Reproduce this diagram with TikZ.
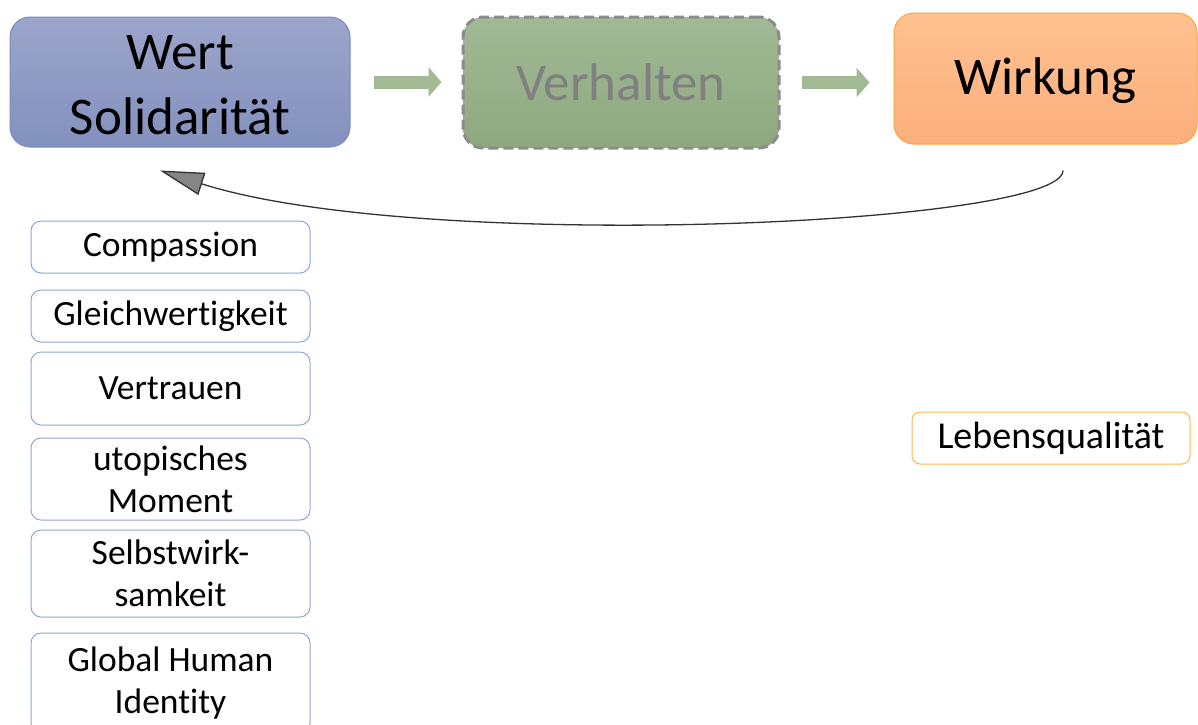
\documentclass[tikz,border=0pt]{standalone}
\usepackage{fontspec}
\setmainfont{Carlito}[Ligatures=NoCommon]
\usetikzlibrary{arrows.meta}
\definecolor{wertTop}{HTML}{9CA5CB}
\definecolor{wertBot}{HTML}{8391BE}
\definecolor{wertLine}{HTML}{7A8BBE}
\definecolor{verhTop}{HTML}{A1BA96}
\definecolor{verhBot}{HTML}{8DA87E}
\definecolor{wirkTop}{HTML}{FFC190}
\definecolor{wirkBot}{HTML}{FBAF7C}
\definecolor{wirkLine}{HTML}{F9A340}
\definecolor{boxblue}{HTML}{8FA6D0}
\definecolor{boxorange}{HTML}{FFB64C}
\definecolor{arrowgreen}{HTML}{A2BA93}
\definecolor{headgray}{HTML}{858585}
\begin{document}
\begin{tikzpicture}[x=1pt,y=-1pt,
  big/.style={rounded corners=20pt, inner sep=0pt, align=center,
    font=\fontsize{53}{65}\selectfont, line width=1pt},
  merkmal/.style={draw=boxblue, line width=1pt, rounded corners=10pt, fill=white,
    minimum width=279pt, inner sep=0pt, align=center, font=\fontsize{35.5}{42}\selectfont},
  flow/.style={line width=13pt, draw=arrowgreen, -{Triangle[width=29pt,length=13pt]}}]
\useasboundingbox (0,0) rectangle (1198,724);
\fill[white] (0,0) rectangle (1198,724);

% obere Kette
\node[big, minimum width=340pt, minimum height=130pt, top color=wertTop, bottom color=wertBot, draw=wertLine] (wert) at (180,82) {\rule{0pt}{40pt}Wert\\Solidarität};
\node[big, minimum width=316pt, minimum height=131pt, top color=verhTop, bottom color=verhBot, draw=gray!90, line width=3pt,
  dash pattern=on 10pt off 5pt, text=gray] (verh) at (621,82.5) {Verhalten};
\node[big, minimum width=303pt, minimum height=131pt, top color=wirkTop, bottom color=wirkBot, draw=wirkLine] (wirk) at (1045.5,78.5) {\rule{0pt}{42pt}Wirkung};

\draw[flow, shorten <=23pt, shorten >=20pt] (wert.east) -- (wert.east -| verh.west);
\draw[flow, shorten <=21pt, shorten >=24pt] (verh.east) -- (verh.east -| wirk.west);

% Rueckkopplung
\draw[line width=1.3pt, draw=black!80, -{Triangle[length=44pt,width=23pt,fill=headgray]}]
  ([xshift=17.5pt,yshift=-26pt]wirk.south) .. controls +(0,55) and +(260,83) .. ([xshift=-20pt,yshift=-23pt]wert.south);

% Merkmale
\node[merkmal, minimum height=52pt] (comp) at (170.5,247) {Compassion};
\node[merkmal, minimum height=52pt] (gleich) at (170.5,316) {Gleichwertigkeit};
\node[merkmal, minimum height=73pt] (vertr) at (170.5,388.5) {Vertrauen};
\node[merkmal, minimum height=82pt] (utop) at (170.5,479) {utopisches\\Moment};
\node[merkmal, minimum height=87pt] (selbst) at (170.5,573.5) {Selbstwirk-\\samkeit};
\node[merkmal, minimum height=100pt] (ghi) at (170.5,683) {Global Human\\Identity};

\node[merkmal, draw=boxorange, minimum width=278pt, minimum height=52pt, rounded corners=8pt,
  font=\fontsize{38}{46}\selectfont] (leben) at (1051,438) {Lebensqualität};
\end{tikzpicture}
\end{document}
